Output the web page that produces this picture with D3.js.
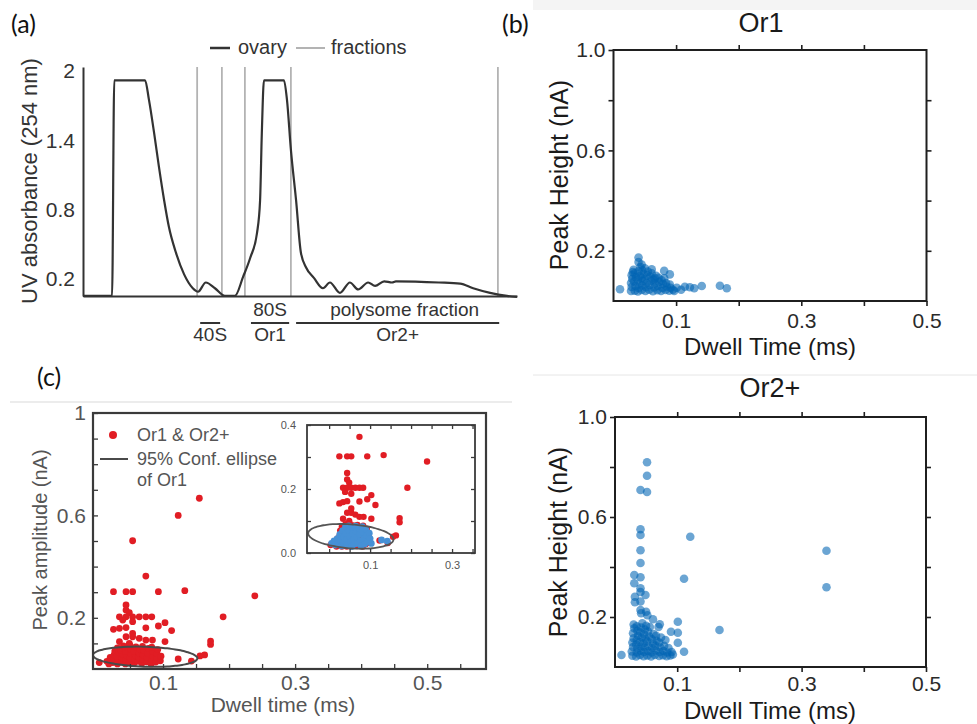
<!DOCTYPE html>
<html>
<head>
<meta charset="utf-8">
<script src="https://cdn.jsdelivr.net/npm/d3@7"></script>
<style>
  body { margin: 0; background: #fff; }
  svg { display: block; font-family: "Liberation Sans", Arial, sans-serif; }
</style>
</head>
<body>
<svg id="fig" width="977" height="724"></svg>
<script>
// ---- (a) sucrose gradient trace: position along gradient (0-100) vs UV absorbance
const ovaryX = [0, 6.7, 7.2, 14.3, 15.2, 16.4, 17.5, 18.7, 19.8, 21.4, 23.3, 25.3, 26.5, 28.3, 30.4, 32.7,
  35.0, 36.9, 38.5, 40.1, 40.8, 41.2, 41.7, 46.3, 47.0, 47.9, 49.1, 50.2, 51.4, 53.2, 55.3, 56.9,
  59.2, 61.5, 63.4, 65.7, 67.3, 69.4, 71.2, 72.1, 82.0, 86.9, 89.9, 93.8, 97.7, 100];
const ovaryY = [0.054, 0.054, 1.92, 1.92, 1.75, 1.46, 1.17, 0.88, 0.65, 0.43, 0.24, 0.12, 0.09, 0.17, 0.12, 0.054,
  0.054, 0.22, 0.38, 0.60, 0.88, 1.46, 1.92, 1.92, 1.75, 1.32, 0.88, 0.43, 0.30, 0.21, 0.12, 0.17,
  0.08, 0.17, 0.11, 0.17, 0.14, 0.18, 0.17, 0.18, 0.17, 0.16, 0.12, 0.08, 0.054, 0.045];
const fractionPos = [26.3, 32.0, 37.3, 47.9, 95.6];
const absTicks = [0.2, 0.8, 1.4, 2];
const bracketStart = [27.0, 38.7, 49.1];
const bracketEnd = [31.6, 47.5, 95.9];
const bracketTop = ["", "80S", "polysome fraction"];
const bracketBottom = ["40S", "Or1", "Or2+"];

// ---- (b) Or1 and Or2+ events: [dwell time (ms), peak height (nA)]
const or1Events = [
  [0.0104,0.047],[0.040,0.173],[0.040,0.155],[0.045,0.145],[0.032,0.124],[0.050,0.130],[0.061,0.126],
  [0.081,0.120],[0.090,0.106],[0.081,0.090],[0.066,0.090],[0.141,0.060],[0.170,0.061],[0.181,0.051],
  [0.114,0.057],[0.129,0.051],[0.101,0.053],[0.122,0.055],[0.108,0.045],
  [0.028,0.040],[0.029,0.056],[0.028,0.072],[0.030,0.088],[0.029,0.103],[0.031,0.115],
  [0.034,0.041],[0.035,0.060],[0.033,0.078],[0.036,0.095],[0.034,0.110],
  [0.039,0.038],[0.040,0.052],[0.041,0.068],[0.039,0.084],[0.042,0.100],[0.040,0.118],[0.043,0.135],
  [0.045,0.044],[0.046,0.062],[0.047,0.079],[0.045,0.092],[0.048,0.108],[0.046,0.122],
  [0.051,0.040],[0.052,0.055],[0.053,0.072],[0.050,0.088],[0.054,0.102],[0.055,0.117],
  [0.057,0.045],[0.058,0.064],[0.060,0.080],[0.059,0.096],[0.061,0.110],
  [0.063,0.039],[0.065,0.054],[0.066,0.070],[0.064,0.085],[0.068,0.100],
  [0.070,0.043],[0.071,0.060],[0.073,0.076],[0.072,0.092],
  [0.076,0.040],[0.078,0.052],[0.079,0.068],[0.077,0.082],
  [0.083,0.044],[0.085,0.058],[0.084,0.072],
  [0.089,0.041],[0.091,0.053],[0.090,0.066],[0.095,0.045],[0.097,0.040]
];
const or2Events = [
  [0.0104,0.048],[0.0515,0.819],[0.0515,0.765],[0.041,0.708],[0.0515,0.700],[0.041,0.551],[0.041,0.528],
  [0.121,0.521],[0.041,0.467],[0.041,0.416],[0.111,0.353],[0.340,0.465],[0.340,0.319],
  [0.031,0.368],[0.041,0.359],[0.031,0.335],[0.041,0.315],[0.041,0.300],[0.032,0.281],[0.049,0.288],
  [0.032,0.259],[0.041,0.262],[0.041,0.228],[0.050,0.221],[0.042,0.215],[0.052,0.207],[0.061,0.191],
  [0.072,0.171],[0.101,0.181],[0.090,0.141],[0.101,0.137],[0.101,0.097],[0.111,0.061],[0.168,0.148],
  [0.028,0.045],[0.027,0.062],[0.029,0.080],[0.028,0.098],[0.030,0.115],[0.029,0.135],[0.031,0.155],[0.030,0.170],
  [0.034,0.042],[0.035,0.058],[0.036,0.074],[0.034,0.090],[0.035,0.108],[0.037,0.125],[0.036,0.145],[0.035,0.163],
  [0.040,0.048],[0.041,0.065],[0.042,0.082],[0.040,0.100],[0.043,0.118],[0.041,0.138],[0.042,0.158],[0.044,0.175],
  [0.046,0.043],[0.047,0.060],[0.048,0.078],[0.046,0.095],[0.049,0.112],[0.047,0.130],[0.048,0.150],[0.050,0.165],
  [0.052,0.046],[0.053,0.064],[0.054,0.083],[0.052,0.102],[0.055,0.122],[0.053,0.142],[0.056,0.160],
  [0.058,0.042],[0.059,0.058],[0.060,0.076],[0.061,0.094],[0.059,0.112],[0.062,0.132],
  [0.064,0.048],[0.066,0.066],[0.065,0.085],[0.067,0.105],[0.066,0.125],[0.070,0.160],
  [0.071,0.044],[0.072,0.060],[0.073,0.078],[0.071,0.098],[0.074,0.118],
  [0.077,0.047],[0.078,0.064],[0.079,0.085],[0.081,0.108],
  [0.083,0.043],[0.084,0.058],[0.086,0.076],[0.089,0.046],[0.091,0.060],[0.093,0.050]
];
const orXTicks = [0.1, 0.2, 0.3, 0.4, 0.5];
const orXLabels = [0.1, 0.3, 0.5];
const orYTicks = [0.2, 0.4, 0.6, 0.8, 1.0];
const orYLabels = [0.2, 0.6, 1.0];

// ---- (c) all events (Or1 & Or2+) and the Or1 confidence ellipse
const allEvents = [
  [0.155,0.667],[0.123,0.600],[0.054,0.501],[0.074,0.363],
  [0.025,0.302],[0.044,0.302],[0.054,0.302],[0.093,0.302],[0.133,0.306],[0.239,0.286],[0.191,0.204],
  [0.044,0.250],[0.044,0.230],[0.049,0.220],[0.034,0.204],[0.044,0.204],[0.054,0.204],[0.064,0.204],
  [0.074,0.204],[0.083,0.204],[0.039,0.191],[0.054,0.185],[0.103,0.181],[0.093,0.168],[0.074,0.161],
  [0.025,0.155],[0.034,0.159],[0.044,0.162],[0.113,0.150],[0.044,0.126],[0.054,0.126],[0.064,0.120],
  [0.074,0.113],[0.084,0.113],[0.103,0.107],[0.034,0.107],[0.054,0.139],[0.049,0.100],
  [0.172,0.109],[0.172,0.096],[0.163,0.055],[0.156,0.051],[0.143,0.031],[0.123,0.039],[0.0035,0.025],
  [0.015,0.030],[0.020,0.045],[0.018,0.020],
  [0.024,0.025],[0.025,0.040],[0.026,0.055],[0.027,0.070],
  [0.031,0.020],[0.032,0.035],[0.030,0.050],[0.033,0.065],[0.031,0.082],
  [0.037,0.028],[0.038,0.043],[0.039,0.058],[0.036,0.074],[0.040,0.090],
  [0.043,0.020],[0.044,0.036],[0.045,0.052],[0.043,0.068],[0.046,0.084],
  [0.049,0.027],[0.050,0.044],[0.051,0.060],[0.052,0.076],[0.050,0.092],
  [0.056,0.022],[0.057,0.038],[0.058,0.054],[0.056,0.070],[0.059,0.086],
  [0.062,0.030],[0.063,0.046],[0.064,0.062],[0.065,0.078],
  [0.068,0.022],[0.069,0.038],[0.070,0.055],[0.071,0.072],[0.069,0.088],
  [0.075,0.028],[0.076,0.045],[0.077,0.062],[0.078,0.080],
  [0.082,0.020],[0.083,0.036],[0.084,0.052],[0.085,0.068],[0.083,0.085],
  [0.089,0.027],[0.090,0.044],[0.091,0.060],[0.092,0.076],[0.096,0.032],[0.097,0.050]
];
const insetOr1 = [
  [0.006,0.030],[0.012,0.038],[0.015,0.025],[0.020,0.045],[0.022,0.030],[0.026,0.058],[0.028,0.040],
  [0.030,0.022],[0.033,0.070],[0.035,0.050],[0.036,0.032],[0.040,0.082],[0.041,0.062],[0.043,0.042],
  [0.044,0.025],[0.048,0.085],[0.049,0.070],[0.050,0.052],[0.052,0.034],[0.055,0.020],[0.057,0.078],
  [0.058,0.060],[0.060,0.042],[0.062,0.028],[0.065,0.084],[0.066,0.066],[0.068,0.048],[0.070,0.030],
  [0.073,0.075],[0.075,0.058],[0.076,0.038],[0.078,0.022],[0.081,0.082],[0.083,0.064],[0.085,0.045],
  [0.087,0.028],[0.090,0.072],[0.092,0.054],[0.094,0.036],[0.098,0.062],[0.100,0.045],[0.103,0.030],
  [0.128,0.041],[0.142,0.037]
];
const mainEllipse = { cx: 0.073, cy: 0.048, rx: 0.079, ry: 0.039, tilt: -0.08 };
const insetEllipse = { cx: 0.053, cy: 0.052, rx: 0.104, ry: 0.0375, tilt: -0.09 };
const cXTicks = [0.05, 0.1, 0.15, 0.2, 0.25, 0.3, 0.35, 0.4, 0.45, 0.5, 0.55];
const cXLabels = [0.1, 0.3, 0.5];
const cYTicks = [0.1, 0.2, 0.3, 0.4, 0.5, 0.6, 0.7, 0.8, 0.9, 1];
const cYLabels = [0.2, 0.6, 1];
const insetXTicks = [0, 0.05, 0.1, 0.15, 0.2, 0.25, 0.3, 0.35];
const insetXLabels = [0.1, 0.3];
const insetYTicks = [0, 0.1, 0.2, 0.3, 0.4];
const insetYLabels = [0, 0.2, 0.4];

const svg = d3.select("#fig");
const fmt1 = d3.format(".1f");

// faint edges left over from the cropped source panels
svg.append("rect").attr("x", 533).attr("y", 0).attr("width", 444).attr("height", 10).attr("fill", "#f4f4f4");
svg.append("line").attr("x1", 10).attr("x2", 512).attr("y1", 402).attr("y2", 402).attr("stroke", "#d9d9d9");
svg.append("line").attr("x1", 533).attr("x2", 977).attr("y1", 375).attr("y2", 375).attr("stroke", "#e6e6e6");

// panel letters
const letters = [["(a)", 11, 33], ["(b)", 502, 33], ["(c)", 37, 386]];
svg.selectAll("text.letter").data(letters).join("text")
  .attr("class", "letter")
  .attr("x", d => d[1]).attr("y", d => d[2])
  .style("font-family", "Lato, 'Open Sans', sans-serif")
  .style("font-size", "25px").attr("fill", "#111")
  .text(d => d[0]);

// ================= (a) =================
const xA = d3.scaleLinear().domain([0, 100]).range([83, 517]);
const yA = d3.scaleLinear().domain([0.053, 2.035]).range([296, 67]);
const gA = svg.append("g");

gA.selectAll("line.frac").data(fractionPos).join("line")
  .attr("x1", d => xA(d)).attr("x2", d => xA(d))
  .attr("y1", yA.range()[1]).attr("y2", yA.range()[0])
  .attr("stroke", "#b3b3b3").attr("stroke-width", 1.8);

gA.append("g").attr("transform", "translate(83,0)")
  .call(d3.axisLeft(yA).tickValues(absTicks).tickSize(0).tickSizeOuter(0).tickPadding(8)
    .tickFormat(d => d === 2 ? "2" : fmt1(d)))
  .call(g => g.select(".domain").attr("stroke", "#333").attr("stroke-width", 2))
  .call(g => g.selectAll("text").style("font-size", "21px").attr("fill", "#333"));

gA.append("g").attr("transform", "translate(0,296)")
  .call(d3.axisBottom(xA).tickValues([]).tickSizeOuter(0))
  .call(g => g.select(".domain").attr("stroke", "#333").attr("stroke-width", 2));

const ovaryLine = d3.line().x(d => xA(d[0])).y(d => yA(d[1])).curve(d3.curveMonotoneX);
gA.append("path").datum(d3.zip(ovaryX, ovaryY))
  .attr("d", ovaryLine).attr("fill", "none")
  .attr("stroke", "#333").attr("stroke-width", 2.2).attr("stroke-linejoin", "round");

gA.append("text").attr("transform", "translate(37,181) rotate(-90)")
  .attr("text-anchor", "middle").style("font-size", "22px").attr("fill", "#333")
  .text("UV absorbance (254 nm)");

// legend
gA.append("line").attr("x1", 210).attr("x2", 230).attr("y1", 48).attr("y2", 48)
  .attr("stroke", "#333").attr("stroke-width", 2.5);
gA.append("text").attr("x", 238).attr("y", 54).style("font-size", "20px").attr("fill", "#333").text("ovary");
gA.append("line").attr("x1", 296).attr("x2", 325).attr("y1", 48).attr("y2", 48)
  .attr("stroke", "#b3b3b3").attr("stroke-width", 2);
gA.append("text").attr("x", 331).attr("y", 54).style("font-size", "20px").attr("fill", "#333").text("fractions");

// fraction brackets
const brackets = d3.range(bracketStart.length).map(i => ({
  x0: bracketStart[i], x1: bracketEnd[i], top: bracketTop[i], bottom: bracketBottom[i]
}));
const bG = gA.selectAll("g.bracket").data(brackets).join("g").attr("class", "bracket");
bG.append("line")
  .attr("x1", d => xA(d.x0)).attr("x2", d => xA(d.x1)).attr("y1", 323).attr("y2", 323)
  .attr("stroke", "#333").attr("stroke-width", 2);
bG.append("text").attr("x", d => xA((d.x0 + d.x1) / 2) + (d.top.length > 5 ? 7 : 0)).attr("y", 316)
  .attr("text-anchor", "middle").style("font-size", "19px").attr("fill", "#333").text(d => d.top);
bG.append("text").attr("x", d => xA((d.x0 + d.x1) / 2)).attr("y", 341)
  .attr("text-anchor", "middle").style("font-size", "19px").attr("fill", "#333").text(d => d.bottom);

// ================= (b) Or1 / Or2+ =================
function orPanel(box, events, title) {
  const x = d3.scaleLinear().domain([0, 0.5]).range([box.left, box.right]);
  const y = d3.scaleLinear().domain([0, 1]).range([box.bottom, box.top]);
  const g = svg.append("g");
  const ink = "#1f1f1f";

  g.append("g").selectAll("circle").data(events).join("circle")
    .attr("cx", d => x(d[0])).attr("cy", d => y(d[1])).attr("r", 4.3)
    .attr("fill", "#0064b4").attr("fill-opacity", 0.58);

  const style = sel => {
    sel.select(".domain").remove();
    sel.selectAll(".tick line").attr("stroke", ink).attr("stroke-width", 1.6);
    sel.selectAll("text").style("font-size", "21px").attr("fill", "#2a2a2a");
  };
  g.append("g").attr("transform", `translate(${box.left},0)`)
    .call(d3.axisLeft(y).tickValues(orYTicks).tickSize(5).tickPadding(3)
      .tickFormat(d => orYLabels.includes(d) ? fmt1(d) : "")).call(style);
  g.append("g").attr("transform", `translate(${box.right},0)`)
    .call(d3.axisRight(y).tickValues(orYTicks.slice(0, 4)).tickSize(5).tickFormat("")).call(style);
  g.append("g").attr("transform", `translate(0,${box.bottom})`)
    .call(d3.axisBottom(x).tickValues(orXTicks).tickSize(5).tickPadding(box.xPad)
      .tickFormat(d => orXLabels.includes(d) ? fmt1(d) : "")).call(style);
  g.append("g").attr("transform", `translate(0,${box.top})`)
    .call(d3.axisTop(x).tickValues(orXTicks.slice(0, 4)).tickSize(5).tickFormat("")).call(style);

  g.append("rect").attr("x", box.left).attr("y", box.top)
    .attr("width", box.right - box.left).attr("height", box.bottom - box.top)
    .attr("fill", "none").attr("stroke", ink).attr("stroke-width", 2);

  g.append("text").attr("x", box.titleX).attr("y", box.titleY).attr("text-anchor", "middle")
    .style("font-size", "27px").attr("fill", "#1a1a1a").text(title);
  g.append("text").attr("x", 770).attr("y", box.xTitleY).attr("text-anchor", "middle")
    .style("font-size", "24px").attr("fill", "#1a1a1a").text("Dwell Time (ms)");
  g.append("text").attr("transform", `translate(${box.yTitleX},${box.yTitleY}) rotate(-90)`)
    .attr("text-anchor", "middle").style("font-size", "25px").attr("fill", "#1a1a1a")
    .text("Peak Height (nA)");
}

orPanel({ left: 613.5, right: 926.5, top: 50, bottom: 301, xPad: 7,
  titleX: 761, titleY: 32, xTitleY: 355, yTitleX: 568, yTitleY: 175 }, or1Events, "Or1");
orPanel({ left: 615, right: 926, top: 417, bottom: 667, xPad: 4,
  titleX: 770, titleY: 397, xTitleY: 719, yTitleX: 567, yTitleY: 542 }, or2Events, "Or2+");

// ================= (c) =================
const xC = d3.scaleLinear().domain([-0.006, 0.589]).range([93, 486]);
const yC = d3.scaleLinear().domain([0, 1]).range([669, 413]);
const gC = svg.append("g");
const cInk = "#3a3a3a";

gC.append("clipPath").attr("id", "clipC").append("rect")
  .attr("x", 93).attr("y", 413).attr("width", 393).attr("height", 256);

gC.append("g").attr("clip-path", "url(#clipC)")
  .selectAll("circle").data(allEvents).join("circle")
  .attr("cx", d => xC(d[0])).attr("cy", d => yC(d[1])).attr("r", 3.4).attr("fill", "#e11d24");

function ellipsePath(e, xs, ys) {
  const pts = d3.range(0, 72).map(i => {
    const t = i / 72 * 2 * Math.PI;
    const dx = e.rx * Math.cos(t);
    return [e.cx + dx, e.cy + e.ry * Math.sin(t) + e.tilt * dx];
  });
  return d3.line().x(d => xs(d[0])).y(d => ys(d[1])).curve(d3.curveCardinalClosed)(pts);
}

gC.append("path").attr("d", ellipsePath(mainEllipse, xC, yC))
  .attr("fill", "none").attr("stroke", "#4a4a4a").attr("stroke-width", 2);

const cStyle = (size, col) => sel => {
  sel.select(".domain").remove();
  sel.selectAll(".tick line").attr("stroke", cInk).attr("stroke-width", 1.3);
  sel.selectAll("text").style("font-size", size).attr("fill", col);
};
gC.append("g").attr("transform", "translate(93,0)")
  .call(d3.axisLeft(yC).tickValues(cYTicks).tickSizeInner(-5).tickSizeOuter(0).tickPadding(7)
    .tickFormat(d => cYLabels.includes(d) ? (d === 1 ? "1" : fmt1(d)) : ""))
  .call(cStyle("21px", "#555"));
gC.append("g").attr("transform", "translate(0,669)")
  .call(d3.axisBottom(xC).tickValues(cXTicks).tickSizeInner(-5).tickSizeOuter(0).tickPadding(6)
    .tickFormat(d => cXLabels.includes(d) ? fmt1(d) : ""))
  .call(cStyle("21px", "#555"));
gC.append("rect").attr("x", 93).attr("y", 413).attr("width", 393).attr("height", 256)
  .attr("fill", "none").attr("stroke", cInk).attr("stroke-width", 2.2);

gC.append("text").attr("transform", "translate(47,540) rotate(-90)").attr("text-anchor", "middle")
  .style("font-size", "20px").attr("fill", "#555").text("Peak amplitude (nA)");
gC.append("text").attr("x", 283).attr("y", 712).attr("text-anchor", "middle")
  .style("font-size", "21px").attr("fill", "#555").text("Dwell time (ms)");

// legend
gC.append("circle").attr("cx", 113).attr("cy", 435).attr("r", 4).attr("fill", "#e11d24");
gC.append("text").attr("x", 137).attr("y", 441).style("font-size", "18px").attr("fill", "#555").text("Or1 & Or2+");
gC.append("line").attr("x1", 100).attr("x2", 128).attr("y1", 459).attr("y2", 459)
  .attr("stroke", "#4a4a4a").attr("stroke-width", 2);
gC.append("text").attr("x", 137).attr("y", 465).style("font-size", "18px").attr("fill", "#555").text("95% Conf. ellipse");
gC.append("text").attr("x", 137).attr("y", 486).style("font-size", "18px").attr("fill", "#555").text("of Or1");

// inset
const xI = d3.scaleLinear().domain([-0.054, 0.356]).range([307, 475]);
const yI = d3.scaleLinear().domain([0, 0.4]).range([553, 425]);
const gI = gC.append("g");
gI.append("rect").attr("x", 307).attr("y", 425).attr("width", 168).attr("height", 128).attr("fill", "#fff");
gI.append("clipPath").attr("id", "clipI").append("rect")
  .attr("x", 307).attr("y", 425).attr("width", 168).attr("height", 128);
const gIp = gI.append("g").attr("clip-path", "url(#clipI)");
gIp.selectAll("circle.all").data(allEvents).join("circle").attr("class", "all")
  .attr("cx", d => xI(d[0])).attr("cy", d => yI(d[1])).attr("r", 3.2).attr("fill", "#e11d24");
gIp.selectAll("circle.or1").data(insetOr1).join("circle").attr("class", "or1")
  .attr("cx", d => xI(d[0])).attr("cy", d => yI(d[1])).attr("r", 3.4).attr("fill", "#4690d6");
gI.append("path").attr("d", ellipsePath(insetEllipse, xI, yI))
  .attr("fill", "none").attr("stroke", "#555").attr("stroke-width", 1.8);

gI.append("g").attr("transform", "translate(307,0)")
  .call(d3.axisLeft(yI).tickValues(insetYTicks).tickSizeInner(-4).tickSizeOuter(0).tickPadding(11)
    .tickFormat(d => insetYLabels.includes(d) ? fmt1(d) : "")).call(cStyle("11px", "#555"));
gI.append("g").attr("transform", "translate(475,0)")
  .call(d3.axisRight(yI).tickValues(insetYTicks).tickSizeInner(-4).tickSizeOuter(0).tickFormat(""))
  .call(cStyle("11px", "#555"));
gI.append("g").attr("transform", "translate(0,553)")
  .call(d3.axisBottom(xI).tickValues(insetXTicks).tickSizeInner(-4).tickSizeOuter(0).tickPadding(8)
    .tickFormat(d => insetXLabels.includes(d) ? fmt1(d) : "")).call(cStyle("11px", "#555"));
gI.append("g").attr("transform", "translate(0,425)")
  .call(d3.axisTop(xI).tickValues(insetXTicks).tickSizeInner(-4).tickSizeOuter(0).tickFormat(""))
  .call(cStyle("11px", "#555"));
gI.append("rect").attr("x", 307).attr("y", 425).attr("width", 168).attr("height", 128)
  .attr("fill", "none").attr("stroke", cInk).attr("stroke-width", 1.8);
</script>
</body>
</html>
